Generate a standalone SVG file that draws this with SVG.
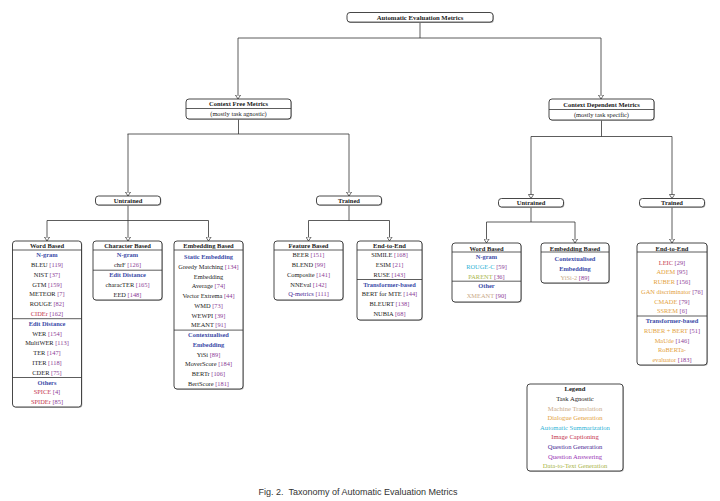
<svg xmlns="http://www.w3.org/2000/svg" width="720" height="501" viewBox="0 0 720 501">
<defs>
<marker id="arr" viewBox="0 0 5 6" refX="4.4" refY="3" markerWidth="5" markerHeight="6" markerUnits="userSpaceOnUse" orient="auto">
<path d="M0.4,0.4 L4.4,3 L0.4,5.6 Z" fill="#fff" stroke="#333" stroke-width="0.7"/>
</marker>
</defs>
<style>
text{font-family:"Liberation Serif","Times New Roman",serif;font-size:6.4px;fill:#222;text-anchor:middle}
.b{font-weight:bold;font-size:6.5px}
.tb{font-weight:bold;font-size:6.7px}
.h{font-weight:bold;fill:#3b4ba8}
.c{fill:#8c3c96}
.ic{fill:#c4334a}
.dg{fill:#e3a140}
.mt{fill:#c9a987}
.as{fill:#2fb3d6}
.qg{fill:#4a2a95}
.qa{fill:#9a35b5}
.dt{fill:#a9b54a}
.lg text{font-size:6.6px}
.bx{fill:#fff;stroke:#333;stroke-width:0.9}
.sh{fill:#aaa;stroke:none}
.dv{stroke:#333;stroke-width:0.8}
.cn{fill:none;stroke:#333;stroke-width:0.8}
.ar{marker-end:url(#arr)}
.cap{font-family:"Liberation Sans",Arial,sans-serif;font-size:9px;fill:#333;text-anchor:middle}
</style>
<rect width="720" height="501" fill="#fff"/>

<g id="connectors">
<path class="cn" d="M420,22.1 V38 M238,38 H601"/>
<path class="cn ar" d="M238,38 V99"/>
<path class="cn ar" d="M601,38 V99"/>
<path class="cn" d="M238.5,119 V134 M127.5,134 H349"/>
<path class="cn ar" d="M128,134 V196"/>
<path class="cn ar" d="M349,134 V196"/>
<path class="cn" d="M128,205 V220.5 M47,220.5 H208.5"/>
<path class="cn ar" d="M47,220.5 V241"/>
<path class="cn ar" d="M128,220.5 V241"/>
<path class="cn ar" d="M208.5,220.5 V241"/>
<path class="cn" d="M349,205 V220.5 M308.5,220.5 H389.5"/>
<path class="cn ar" d="M308.5,220.5 V241"/>
<path class="cn ar" d="M389.5,220.5 V241"/>
<path class="cn" d="M601.5,120 V136.5 M531,136.5 H672"/>
<path class="cn ar" d="M531,136.5 V198.5"/>
<path class="cn ar" d="M672,136.5 V198.5"/>
<path class="cn" d="M531,207 V222 M486.5,222 H575"/>
<path class="cn ar" d="M486.5,222 V243"/>
<path class="cn ar" d="M575,222 V243"/>
<path class="cn ar" d="M672,207 V243"/>
</g>

<g id="root">
<rect class="sh" x="347.8" y="13.3" width="146" height="9.6" rx="3"/>
<rect class="bx" x="347" y="12.5" width="146" height="9.6" rx="3"/>
<text class="tb" x="420" y="19.7">Automatic Evaluation Metrics</text>
</g>

<g id="context-free">
<rect class="sh" x="186.8" y="99.8" width="105" height="20" rx="3"/>
<rect class="bx" x="186" y="99" width="105" height="20" rx="3"/>
<line class="dv" x1="186" y1="108.5" x2="291" y2="108.5"/>
<text class="b" x="238.5" y="106.2">Context Free Metrics</text>
<text x="238.5" y="116.3">(mostly task agnostic)</text>
</g>

<g id="context-dependent">
<rect class="sh" x="549.8" y="99.8" width="105" height="21" rx="3"/>
<rect class="bx" x="549" y="99" width="105" height="21" rx="3"/>
<line class="dv" x1="549" y1="109.5" x2="654" y2="109.5"/>
<text class="b" x="601.5" y="106.7">Context Dependent Metrics</text>
<text x="601.5" y="117.2">(mostly task specific)</text>
</g>

<g id="untrained-free">
<rect class="sh" x="96.3" y="196.8" width="65" height="9" rx="3"/>
<rect class="bx" x="95.5" y="196" width="65" height="9" rx="3"/>
<text class="b" x="128" y="202.7">Untrained</text>
</g>
<g id="trained-free">
<rect class="sh" x="317.3" y="196.8" width="65" height="9" rx="3"/>
<rect class="bx" x="316.5" y="196" width="65" height="9" rx="3"/>
<text class="b" x="349" y="202.7">Trained</text>
</g>
<g id="untrained-dep">
<rect class="sh" x="499.3" y="199.3" width="65" height="8.5" rx="3"/>
<rect class="bx" x="498.5" y="198.5" width="65" height="8.5" rx="3"/>
<text class="b" x="531" y="205">Untrained</text>
</g>
<g id="trained-dep">
<rect class="sh" x="640.3" y="199.3" width="65" height="8.5" rx="3"/>
<rect class="bx" x="639.5" y="198.5" width="65" height="8.5" rx="3"/>
<text class="b" x="672" y="205">Trained</text>
</g>

<g id="word-based-free">
<rect class="sh" x="13.3" y="241.8" width="69" height="166" rx="3"/>
<rect class="bx" x="12.5" y="241" width="69" height="166" rx="3"/>
<line class="dv" x1="12.5" y1="250" x2="81.5" y2="250"/>
<line class="dv" x1="12.5" y1="318.7" x2="81.5" y2="318.7"/>
<line class="dv" x1="12.5" y1="377.5" x2="81.5" y2="377.5"/>
<text class="b" x="47" y="248.2">Word Based</text>
<text class="h" x="47" y="257.2">N-gram</text>
<text x="47" y="267">BLEU <tspan class="c">[119]</tspan></text>
<text x="47" y="276.8">NIST <tspan class="c">[37]</tspan></text>
<text x="47" y="286.6">GTM <tspan class="c">[159]</tspan></text>
<text x="47" y="296.4">METEOR <tspan class="c">[7]</tspan></text>
<text x="47" y="306.2">ROUGE <tspan class="c">[82]</tspan></text>
<text x="47" y="316"><tspan class="ic">CIDEr</tspan> <tspan class="c">[162]</tspan></text>
<text class="h" x="47" y="325.8">Edit Distance</text>
<text x="47" y="335.6">WER <tspan class="c">[154]</tspan></text>
<text x="47" y="345.4">MultiWER <tspan class="c">[113]</tspan></text>
<text x="47" y="355.2">TER <tspan class="c">[147]</tspan></text>
<text x="47" y="365">ITER <tspan class="c">[118]</tspan></text>
<text x="47" y="374.8">CDER <tspan class="c">[75]</tspan></text>
<text class="h" x="47" y="384.6">Others</text>
<text x="47" y="394.4"><tspan class="ic">SPICE</tspan> <tspan class="c">[4]</tspan></text>
<text x="47" y="404.2"><tspan class="ic">SPIDEr</tspan> <tspan class="c">[85]</tspan></text>
</g>

<g id="character-based">
<rect class="sh" x="93.8" y="241.8" width="69" height="59" rx="3"/>
<rect class="bx" x="93" y="241" width="69" height="59" rx="3"/>
<line class="dv" x1="93" y1="250" x2="162" y2="250"/>
<line class="dv" x1="93" y1="270.2" x2="162" y2="270.2"/>
<text class="b" x="127.5" y="248.2">Character Based</text>
<text class="h" x="127.5" y="257.2">N-gram</text>
<text x="127.5" y="267">chrF <tspan class="c">[126]</tspan></text>
<text class="h" x="127.5" y="277.2">Edit Distance</text>
<text x="127.5" y="287">characTER <tspan class="c">[165]</tspan></text>
<text x="127.5" y="296.8">EED <tspan class="c">[148]</tspan></text>
</g>

<g id="embedding-based-free">
<rect class="sh" x="174.8" y="241.8" width="69" height="148" rx="3"/>
<rect class="bx" x="174" y="241" width="69" height="148" rx="3"/>
<line class="dv" x1="174" y1="250" x2="243" y2="250"/>
<line class="dv" x1="174" y1="330.1" x2="243" y2="330.1"/>
<text class="b" x="208.5" y="248.2">Embedding Based</text>
<text class="h" x="208.5" y="259.2">Static Embedding</text>
<text x="208.5" y="268.95">Greedy Matching <tspan class="c">[134]</tspan></text>
<text x="208.5" y="278.7">Embedding</text>
<text x="208.5" y="288.45">Average <tspan class="c">[74]</tspan></text>
<text x="208.5" y="298.2">Vector Extrema <tspan class="c">[44]</tspan></text>
<text x="208.5" y="307.95">WMD <tspan class="c">[73]</tspan></text>
<text x="208.5" y="317.7">WEWPI <tspan class="c">[39]</tspan></text>
<text x="208.5" y="327.45">MEANT <tspan class="c">[91]</tspan></text>
<text class="h" x="208.5" y="337.2">Contextualised</text>
<text class="h" x="208.5" y="346.95">Embedding</text>
<text x="208.5" y="356.7">YiSi <tspan class="c">[89]</tspan></text>
<text x="208.5" y="366.45">MoverScore <tspan class="c">[184]</tspan></text>
<text x="208.5" y="376.2">BERTr <tspan class="c">[106]</tspan></text>
<text x="208.5" y="385.95">BertScore <tspan class="c">[181]</tspan></text>
</g>

<g id="feature-based">
<rect class="sh" x="274.8" y="241.8" width="69" height="59" rx="3"/>
<rect class="bx" x="274" y="241" width="69" height="59" rx="3"/>
<line class="dv" x1="274" y1="250" x2="343" y2="250"/>
<text class="b" x="308.5" y="248.2">Feature Based</text>
<text x="308.5" y="257.2">BEER <tspan class="c">[151]</tspan></text>
<text x="308.5" y="267">BLEND <tspan class="c">[99]</tspan></text>
<text x="308.5" y="276.8">Composite <tspan class="c">[141]</tspan></text>
<text x="308.5" y="286.6">NNEval <tspan class="c">[142]</tspan></text>
<text x="308.5" y="296.4"><tspan class="qg">Q-metrics</tspan> <tspan class="c">[111]</tspan></text>
</g>

<g id="end-to-end-free">
<rect class="sh" x="357.8" y="241.8" width="65" height="79" rx="3"/>
<rect class="bx" x="357" y="241" width="65" height="79" rx="3"/>
<line class="dv" x1="357" y1="250" x2="422" y2="250"/>
<line class="dv" x1="357" y1="279.5" x2="422" y2="279.5"/>
<text class="b" x="389.5" y="248.2">End-to-End</text>
<text x="389.5" y="257.2">SIMILE <tspan class="c">[168]</tspan></text>
<text x="389.5" y="267">ESIM <tspan class="c">[21]</tspan></text>
<text x="389.5" y="276.8">RUSE <tspan class="c">[143]</tspan></text>
<text class="h" x="389.5" y="286.6">Transformer-based</text>
<text x="389.5" y="296.4">BERT for MTE <tspan class="c">[144]</tspan></text>
<text x="389.5" y="306.2">BLEURT <tspan class="c">[138]</tspan></text>
<text x="389.5" y="316">NUBIA <tspan class="c">[68]</tspan></text>
</g>

<g id="word-based-dep">
<rect class="sh" x="452.8" y="243.8" width="69" height="59" rx="3"/>
<rect class="bx" x="452" y="243" width="69" height="59" rx="3"/>
<line class="dv" x1="452" y1="252" x2="521" y2="252"/>
<line class="dv" x1="452" y1="281.2" x2="521" y2="281.2"/>
<text class="b" x="486.5" y="250.5">Word Based</text>
<text class="h" x="486.5" y="258.9">N-gram</text>
<text x="486.5" y="268.7"><tspan class="as">ROUGE-C</tspan> <tspan class="c">[59]</tspan></text>
<text x="486.5" y="278.5"><tspan class="dt">PARENT</tspan> <tspan class="c">[36]</tspan></text>
<text class="h" x="486.5" y="288.2">Other</text>
<text x="486.5" y="298.1"><tspan class="mt">XMEANT</tspan> <tspan class="c">[90]</tspan></text>
</g>

<g id="embedding-based-dep">
<rect class="sh" x="541.8" y="243.8" width="68" height="40" rx="3"/>
<rect class="bx" x="541" y="243" width="68" height="40" rx="3"/>
<line class="dv" x1="541" y1="252" x2="609" y2="252"/>
<text class="b" x="575" y="250.5">Embedding Based</text>
<text class="h" x="575" y="260.9">Contextualised</text>
<text class="h" x="575" y="270.5">Embedding</text>
<text x="575" y="280.2"><tspan class="mt">YiSi-2</tspan> <tspan class="c">[89]</tspan></text>
</g>

<g id="end-to-end-dep">
<rect class="sh" x="637.8" y="243.8" width="70" height="122" rx="3"/>
<rect class="bx" x="637" y="243" width="70" height="122" rx="3"/>
<line class="dv" x1="637" y1="252" x2="707" y2="252"/>
<line class="dv" x1="637" y1="316" x2="707" y2="316"/>
<text class="b" x="672" y="250.5">End-to-End</text>
<text x="672" y="264.5"><tspan class="ic">LEIC</tspan> <tspan class="c">[29]</tspan></text>
<text x="672" y="274.2"><tspan class="dg">ADEM</tspan> <tspan class="c">[95]</tspan></text>
<text x="672" y="283.9"><tspan class="dg">RUBER</tspan> <tspan class="c">[156]</tspan></text>
<text x="672" y="293.7"><tspan class="dg">GAN discriminator</tspan> <tspan class="c">[76]</tspan></text>
<text x="672" y="303.5"><tspan class="dg">CMADE</tspan> <tspan class="c">[79]</tspan></text>
<text x="672" y="313.2"><tspan class="dg">SSREM</tspan> <tspan class="c">[6]</tspan></text>
<text class="h" x="672" y="323">Transformer-based</text>
<text x="672" y="332.8"><tspan class="dg">RUBER + BERT</tspan> <tspan class="c">[51]</tspan></text>
<text x="672" y="342.6"><tspan class="dg">MaUde</tspan> <tspan class="c">[146]</tspan></text>
<text x="672" y="352.4"><tspan class="dg">RoBERTa-</tspan></text>
<text x="672" y="362.2"><tspan class="dg">evaluator</tspan> <tspan class="c">[183]</tspan></text>
</g>

<g id="legend" class="lg">
<rect class="sh" x="527.8" y="384.8" width="96" height="87" rx="3"/>
<rect class="bx" x="527" y="384" width="96" height="87" rx="3"/>
<text class="b" x="575" y="391.2">Legend</text>
<text x="575" y="401">Task Agnostic</text>
<text class="mt" x="575" y="410.6">Machine Translation</text>
<text class="dg" x="575" y="420.2">Dialogue Generation</text>
<text class="as" x="575" y="429.8">Automatic Summarization</text>
<text class="ic" x="575" y="439.4">Image Captioning</text>
<text class="qg" x="575" y="449">Question Generation</text>
<text class="qa" x="575" y="458.6">Question Answering</text>
<text class="dt" x="575" y="468.2">Data-to-Text Generation</text>
</g>

<text class="cap" x="358" y="495">Fig. 2.&#160; Taxonomy of Automatic Evaluation Metrics</text>
</svg>
